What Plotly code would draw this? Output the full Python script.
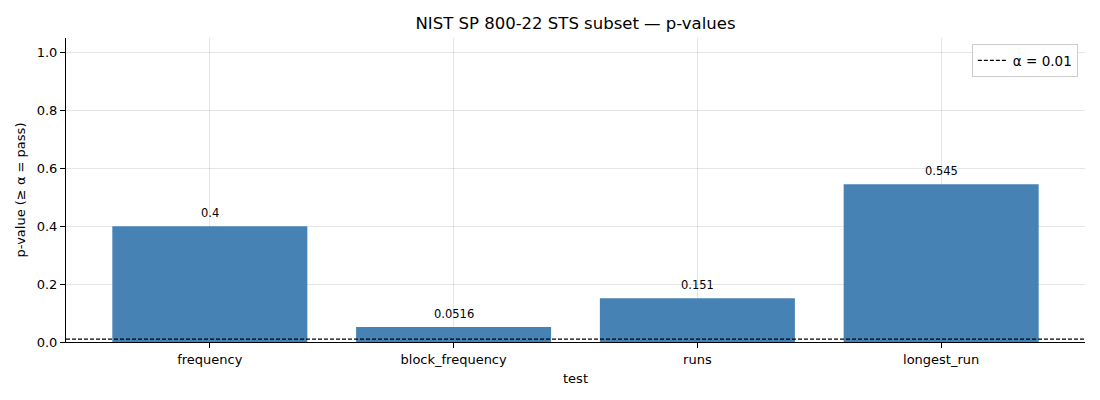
import plotly.graph_objects as go

tests = ["frequency", "block_frequency", "runs", "longest_run"]
p_values = [0.4, 0.0516, 0.151, 0.545]
p_labels = ["0.4", "0.0516", "0.151", "0.545"]
alpha = 0.01
y_ticks = [0.0, 0.2, 0.4, 0.6, 0.8, 1.0]

fig = go.Figure()
fig.add_trace(go.Bar(
    x=list(range(len(tests))), y=p_values, width=0.8,
    marker=dict(color="#4682B4", line=dict(width=0)),
    showlegend=False, hoverinfo="skip",
))
for i, (v, lab) in enumerate(zip(p_values, p_labels)):
    fig.add_annotation(x=i, y=v, text=lab, showarrow=False, xref="x", yref="y",
                       yanchor="middle", yshift=13,
                       font=dict(size=11.5, color="black"))
fig.add_trace(go.Scatter(
    x=[None], y=[None], mode="lines",
    line=dict(color="black", width=1.2, dash="4px,2px"),
    name="α = 0.01",
))
fig.add_shape(type="line", xref="paper", x0=0, x1=1, yref="y", y0=alpha, y1=alpha,
              line=dict(color="black", width=1.2, dash="4px,2px"))

fig.update_layout(
    width=1100, height=400,
    margin=dict(l=58, r=23, t=30, b=66),
    plot_bgcolor="white", paper_bgcolor="white",
    font=dict(family="DejaVu Sans", size=13, color="black"),
    title=dict(text="NIST SP 800-22 STS subset — p-values", x=(58 + 1019 / 2) / 1100, xanchor="center",
               y=1 - 15 / 400, yanchor="middle", font=dict(size=16.5)),
    showlegend=True,
    legend=dict(x=0.993, y=0.98, xanchor="right", yanchor="top",
                bordercolor="#cccccc", borderwidth=1, bgcolor="white",
                font=dict(size=13.5)),
    bargap=0.2,
)
fig.update_xaxes(
    range=[-0.59, len(tests) - 1 + 0.59],
    tickvals=list(range(len(tests))), ticktext=tests,
    showline=True, linecolor="black", linewidth=1,
    ticks="outside", ticklen=5, tickcolor="black",
    showgrid=True, gridcolor="rgba(0,0,0,0.1)", gridwidth=1,
    title=dict(text="test", font=dict(size=13), standoff=8),
    zeroline=False, layer="above traces",
)
fig.update_yaxes(
    range=[0, 1.05],
    tickvals=y_ticks, ticktext=[f"{v:.1f}" for v in y_ticks],
    showline=True, linecolor="black", linewidth=1,
    ticks="outside", ticklen=5, tickcolor="black",
    showgrid=True, gridcolor="rgba(0,0,0,0.1)", gridwidth=1,
    title=dict(text="p-value (≥ α = pass)", font=dict(size=13), standoff=8),
    zeroline=False, layer="above traces",
)
fig.write_html("out.html")
